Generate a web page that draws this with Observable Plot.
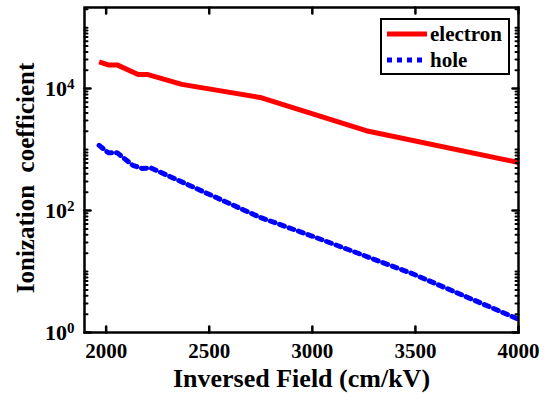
<!DOCTYPE html>
<html><head><meta charset="utf-8">
<script src="https://cdn.jsdelivr.net/npm/d3@7"></script>
<script src="https://cdn.jsdelivr.net/npm/@observablehq/plot@0.6"></script>
<style>
body{margin:0;background:#fff;}
#wrap{position:relative;width:551px;height:403px;font-family:"Liberation Serif","Times New Roman","DejaVu Serif",serif;font-weight:bold;}
#wrap svg, #wrap svg text{font-family:"Liberation Serif","Times New Roman","DejaVu Serif",serif !important;}
#legend{position:absolute;left:380px;top:18px;width:126px;height:53px;border:2.5px solid #000;background:#fff;}
#legend .row{position:absolute;left:0;height:26px;display:flex;align-items:center;font-size:21px;}
#legend svg{margin-left:5px;margin-right:3px;}
</style>
</head><body><div id="wrap"></div>
<script>
const electronField = [1966, 2010, 2053, 2155, 2203, 2367, 2754, 3261, 4000];
const electronAlpha = [27500, 24500, 24500, 17000, 17000, 11750, 7080, 2040, 615];
const holeField = [1966, 2010, 2053, 2130, 2174, 2217, 2744, 3019, 3483, 4000];
const holeAlpha = [1175, 890, 890, 550, 490, 500, 78, 36, 9.3, 1.65];
const seriesNames = ["electron", "hole"];
const seriesColors = ["#ff0000", "#0000ff"];
const xTicks = [2000, 2500, 3000, 3500, 4000];
const yMajor = [1, 100, 10000];
const yMinor = [];
for (let k = 0; k <= 5; k++) for (let m = 1; m <= 9; m++) {
  const v = m * Math.pow(10, k);
  if (v <= 2.1e5 && !yMajor.includes(v)) yMinor.push(v);
}
const electron = electronField.map((f, i) => ({field: f, alpha: electronAlpha[i]}));
const hole = holeField.map((f, i) => ({field: f, alpha: holeAlpha[i]}));

// inward tick drawn as a vector from the frame edge
const tickShape = {draw(context, l) { context.moveTo(0, 0); context.lineTo(0, -l); }};
const FONT = "Liberation Serif, Times New Roman, DejaVu Serif, serif";

const plot = Plot.plot({
  width: 551, height: 403,
  marginLeft: 84, marginRight: 33, marginTop: 7, marginBottom: 71,
  style: {fontFamily: FONT, fontWeight: "bold", color: "#000", background: "#fff"},
  x: {domain: [1895, 4000]},
  y: {type: "log", domain: [1, 2.14e5]},
  marks: [
    Plot.line(electron, {x: "field", y: "alpha", stroke: seriesColors[0], strokeWidth: 5, strokeLinejoin: "round", strokeLinecap: "butt"}),
    Plot.line(hole, {x: "field", y: "alpha", stroke: seriesColors[1], strokeWidth: 5, strokeDasharray: "5,5"}),
    // inward ticks on four sides
    Plot.vector(xTicks, {x: d => d, frameAnchor: "bottom", length: 6, rotate: 0, anchor: "start", shape: tickShape, stroke: "#000", strokeWidth: 2.5}),
    Plot.vector(xTicks, {x: d => d, frameAnchor: "top", length: 6, rotate: 180, anchor: "start", shape: tickShape, stroke: "#000", strokeWidth: 2.5}),
    Plot.vector(yMajor, {y: d => d, frameAnchor: "left", length: 6, rotate: 90, anchor: "start", shape: tickShape, stroke: "#000", strokeWidth: 2.5}),
    Plot.vector(yMajor, {y: d => d, frameAnchor: "right", length: 6, rotate: -90, anchor: "start", shape: tickShape, stroke: "#000", strokeWidth: 2.5}),
    Plot.vector(yMinor, {y: d => d, frameAnchor: "left", length: 3, rotate: 90, anchor: "start", shape: tickShape, stroke: "#000", strokeWidth: 2}),
    Plot.vector(yMinor, {y: d => d, frameAnchor: "right", length: 3, rotate: -90, anchor: "start", shape: tickShape, stroke: "#000", strokeWidth: 2}),
    // tick labels
    Plot.axisX({anchor: "bottom", ticks: xTicks, tickSize: 0, tickPadding: 11, fontSize: 21, label: null, tickFormat: d => String(d)}),
    Plot.axisY({anchor: "left", ticks: yMajor, tickSize: 0, tickPadding: 10, fontSize: 22, label: null, tickFormat: d => "10^" + Math.round(Math.log10(d))}),
    Plot.frame({stroke: "#000", strokeWidth: 2.5}),
    Plot.text(["Inversed Field (cm/kV)"], {frameAnchor: "bottom", dy: 54, textAnchor: "middle", fontSize: 26, fontWeight: "bold", fill: "#000"}),
    Plot.text(["Ionization  coefficient"], {frameAnchor: "left", rotate: -90, textAnchor: "middle", dx: -59, dy: 8, fontSize: 25, fontWeight: "bold", fill: "#000"})
  ]
});
document.getElementById("wrap").appendChild(plot);

// superscript exponents on the y tick labels
plot.querySelectorAll("text").forEach(t => {
  const s = t.textContent;
  const m = /^10\^(\d+)$/.exec(s);
  if (m) {
    t.textContent = "10";
    const ts = document.createElementNS("http://www.w3.org/2000/svg", "tspan");
    ts.setAttribute("dy", "-0.45em");
    ts.setAttribute("font-size", "15");
    ts.textContent = m[1];
    t.appendChild(ts);
  }
});

// legend
const legend = document.createElement("div");
legend.id = "legend";
seriesNames.forEach((name, i) => {
  const row = document.createElement("div");
  row.className = "row";
  row.style.top = (i === 0 ? 1 : 27) + "px";
  const sw = d3.create("svg").attr("width", 40).attr("height", 10);
  sw.append("line").attr("x1", 0).attr("x2", 40).attr("y1", 5).attr("y2", 5)
    .attr("stroke", seriesColors[i]).attr("stroke-width", 5)
    .attr("stroke-dasharray", i === 1 ? "5,5" : null);
  row.appendChild(sw.node());
  const label = document.createElement("span");
  label.textContent = name;
  row.appendChild(label);
  legend.appendChild(row);
});
document.getElementById("wrap").appendChild(legend);
</script>
</body></html>
